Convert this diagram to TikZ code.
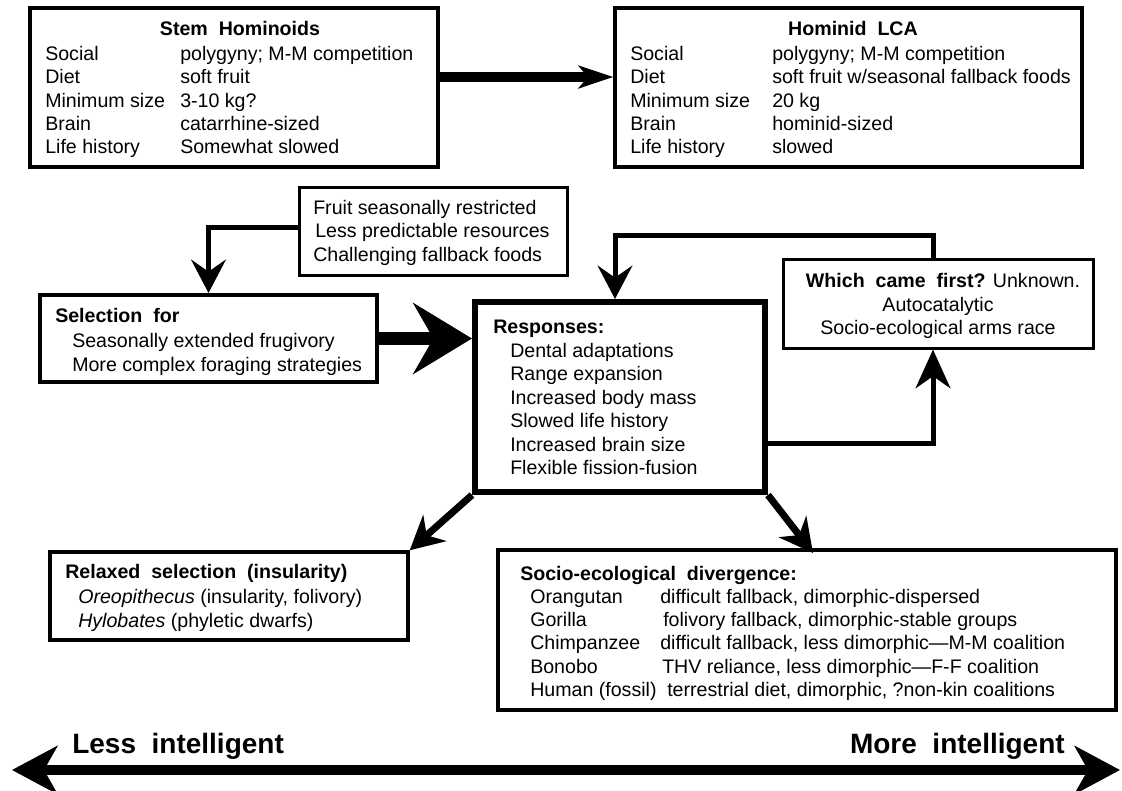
\documentclass[tikz,border=0pt]{standalone}
\usepackage{fontspec}
\setmainfont{Liberation Sans}
\usetikzlibrary{arrows.meta,calc,fit}
\begin{document}
\begin{tikzpicture}[x=0.75pt,y=-0.75pt,
  box/.style={draw,inner sep=0pt,line width=#1},
  box/.default=2.6pt,
  txt/.style={anchor=base west,inner sep=0pt,font=\fontsize{14.7}{17}\selectfont},
  ctxt/.style={anchor=base,inner sep=0pt,font=\fontsize{14.7}{17}\selectfont},
  bigtxt/.style={anchor=base west,inner sep=0pt,font=\fontsize{21}{25}\selectfont\bfseries},
  conn/.style={line width=3.75pt},
  diag/.style={line width=5.25pt,-{Stealth[length=25pt,width=26pt,inset=8pt]}},
  vhead/.style={-{Stealth[length=25pt,width=26pt,inset=9pt]}}
]
\useasboundingbox (0,0) rectangle (1122,790);

% boxes
\node[box, fit={(30,8) (438,167)}] (stem) {};
\node[box, fit={(615,8) (1082,167)}] (lca) {};
\node[box=2.25pt, fit={(299,187) (567,275)}] (fruit) {};
\node[box=3pt, fit={(40,295) (377,382)}] (sel) {};
\node[box=4.5pt, fit={(475,302) (765,492)}] (resp) {};
\node[box=2.25pt, fit={(783,259) (1093,348)}] (which) {};
\node[box, fit={(50,552) (408,640)}] (relax) {};
\node[box, fit={(498,550) (1116,710)}] (socio) {};

% stem hominoids
\node[ctxt] (stemT) at (240,35) {\bfseries Stem~~Hominoids};
\node[txt] (s1a) at (45,60) {Social};        \node[txt] (s1b) at (180,60) {polygyny; M-M competition};
\node[txt] (s2a) at (45,83) {Diet};          \node[txt] (s2b) at (180,83) {soft fruit};
\node[txt] (s3a) at (45,107) {Minimum size}; \node[txt] (s3b) at (180,107) {3-10 kg?};
\node[txt] (s4a) at (45,130) {Brain};        \node[txt] (s4b) at (180,130) {catarrhine-sized};
\node[txt] (s5a) at (45,153) {Life history}; \node[txt] (s5b) at (180,153) {Somewhat slowed};

% hominid LCA
\node[ctxt] (lcaT) at (853,35) {\bfseries Hominid~~LCA};
\node[txt] (h1a) at (630,60) {Social};        \node[txt] (h1b) at (772,60) {polygyny; M-M competition};
\node[txt] (h2a) at (630,83) {Diet};          \node[txt] (h2b) at (772,83) {soft fruit w/seasonal fallback foods};
\node[txt] (h3a) at (630,107) {Minimum size}; \node[txt] (h3b) at (772,107) {20 kg};
\node[txt] (h4a) at (630,130) {Brain};        \node[txt] (h4b) at (772,130) {hominid-sized};
\node[txt] (h5a) at (630,153) {Life history}; \node[txt] (h5b) at (772,153) {slowed};

% fruit
\node[txt] (f1) at (313,214) {Fruit seasonally restricted};
\node[txt] (f2) at (315,237.5) {Less predictable resources};
\node[txt] (f3) at (313,261) {Challenging fallback foods};

% selection
\node[txt] (selT) at (55,322) {\bfseries Selection~~for};
\node[txt] (sel1) at (72,347) {Seasonally extended frugivory};
\node[txt] (sel2) at (72,371) {More complex foraging strategies};

% responses
\node[txt] (respT) at (493,333) {\bfseries Responses:};
\node[txt] (r1) at (510,357) {Dental adaptations};
\node[txt] (r2) at (510,380.5) {Range expansion};
\node[txt] (r3) at (510,404) {Increased body mass};
\node[txt] (r4) at (510,427.5) {Slowed life history};
\node[txt] (r5) at (510,451) {Increased brain size};
\node[txt] (r6) at (510,474.5) {Flexible fission-fusion};

% which came first
\node[ctxt] (w1) at (943,287) {\bfseries Which~~came~~first?\mdseries{} Unknown.};
\node[ctxt] (w2) at (938,311) {Autocatalytic};
\node[ctxt] (w3) at (938,334) {Socio-ecological arms race};

% relaxed
\node[txt] (relT) at (65,578) {\bfseries Relaxed~~selection~~(insularity)};
\node[txt] (rel1) at (78,603) {\itshape Oreopithecus\upshape{} (insularity, folivory)};
\node[txt] (rel2) at (78,627) {\itshape Hylobates\upshape{} (phyletic dwarfs)};

% socio-ecological divergence
\node[txt] (socT) at (520,580) {\bfseries Socio-ecological~~divergence:};
\node[txt] (o1a) at (530,603) {Orangutan};      \node[txt] (o1b) at (660,603) {difficult fallback, dimorphic-dispersed};
\node[txt] (o2a) at (530,626) {Gorilla};        \node[txt] (o2b) at (663,626) {folivory fallback, dimorphic-stable groups};
\node[txt] (o3a) at (530,649) {Chimpanzee};     \node[txt] (o3b) at (660,649) {difficult fallback, less dimorphic—M-M coalition};
\node[txt] (o4a) at (530,673) {Bonobo};         \node[txt] (o4b) at (662,673) {THV reliance, less dimorphic—F-F coalition};
\node[txt] (o5a) at (530,696) {Human (fossil)}; \node[txt] (o5b) at (667,696) {terrestrial diet, dimorphic, ?non-kin coalitions};

% intelligence axis
\node[bigtxt] (less) at (72,753) {Less~~intelligent};
\node[bigtxt,anchor=base east] (more) at (1065,753) {More~~intelligent};
\coordinate (axL) at (12,770);
\coordinate (axR) at (1120,770);

% connectors
\draw[line width=7.5pt,-{Stealth[length=26pt,width=17pt,inset=7pt]}]
  ($(stem.east)+(0,-10.5)$) -- ($(stem.east -| lca.west)+(0,-10.5)$);
\draw[conn,vhead] ($(fruit.west)+(0,-4)$) -| (sel.north);
\draw[line width=9.75pt,-{Stealth[length=44pt,width=53pt,inset=15pt]}]
  (sel.east) -- (sel.east -| resp.west);
\coordinate (topbend) at (0,235);
\draw[conn,vhead] ($(which.north)+(-5,0)$) -- ($(which.north |- topbend)+(-5,0)$)
  -- ($(resp.north |- topbend)+(-5,0)$) -- ($(resp.north)+(-5,0)$);
\draw[conn,-{Stealth[length=29pt,width=26pt,inset=9pt]}] ($(resp.east)+(0,46)$) -- ($(resp.east -| which.south)+(-5,46)$)
  -- ($(which.south)+(-5,0)$);
\draw[diag] (resp.south west) -- (relax.north east);
\draw[diag] (resp.south east) -- ($(resp.south east -| socio.north)+(6,58)$);
\draw[line width=7.5pt,{Stealth[length=34pt,width=36pt,inset=10pt]}-{Stealth[length=34pt,width=36pt,inset=10pt]}]
  (axL) -- (axR);
\end{tikzpicture}
\end{document}
